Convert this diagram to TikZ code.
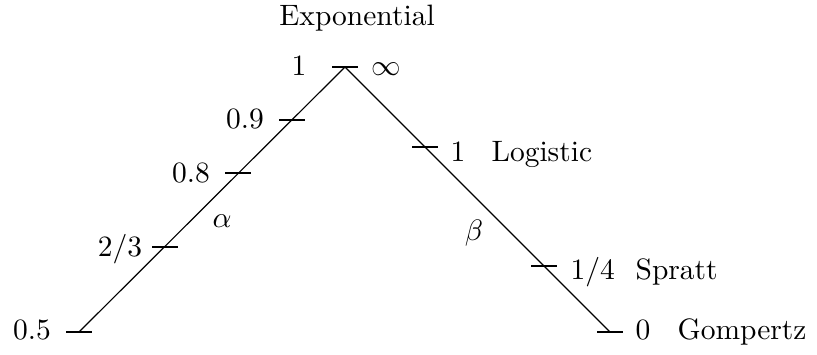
\documentclass[tikz,border=0pt]{standalone}
\begin{document}
\begin{tikzpicture}[x=0.339pt,y=-0.339pt,
  lbl/.style={inner sep=0pt, anchor=base},
  lblw/.style={inner sep=0pt, anchor=base west},
  tickmark/.style={line width=0.4pt},
  axisline/.style={line width=0.4pt}]
\useasboundingbox (0,0) rectangle (817,354);
% axis end points and tick positions
\coordinate (apex) at (345,67);
\coordinate (L) at (79,332);
\coordinate (R) at (610,332);
\coordinate (a9) at (292,120);
\coordinate (a8) at (238,173);
\coordinate (a23) at (165,247);
\coordinate (b1) at (425,147);
\coordinate (b14) at (544,266);
\draw[axisline] (L) -- (apex) -- (R);
\foreach \t in {apex,L,R,a9,a8,a23,b1,b14}
  \draw[tickmark] (\t) +(-13,0) -- +(13,0);
% labels
\node[lbl] (expo) at (357,25) {Exponential};
\node[lbl] (one) at (299,75) {$1$};
\node[lbl] (inf) at (386,75) {$\infty$};
\node[lbl] (l9) at (245,128) {$0.9$};
\node[lbl] (l8) at (191,182) {$0.8$};
\node[lbl] (l23) at (120,256) {$2/3$};
\node[lbl] (l5) at (32,339) {$0.5$};
\node[lbl] (alpha) at (222,227) {$\alpha$};
\node[lbl] (beta) at (474,240) {$\beta$};
\node[lblw] (logn) at (450,161) {$1$};
\node[lblw] (logi) at (491,161) {Logistic};
\node[lblw] (sprn) at (570,279) {$1/4$};
\node[lblw] (spr) at (635,279) {Spratt};
\node[lblw] (gompn) at (635,339) {$0$};
\node[lblw] (gomp) at (677,339) {Gompertz};
\end{tikzpicture}
\end{document}
